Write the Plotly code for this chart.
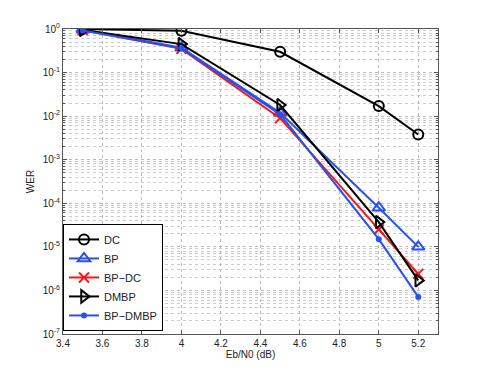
import plotly.graph_objects as go

ebn0 = [3.5, 4.0, 4.5, 5.0, 5.2]

wer_dc = [1.0, 0.91, 0.30, 0.017, 0.0038]
wer_bp = [0.98, 0.37, 0.012, 7.9e-5, 1.0e-5]
wer_bp_dc = [0.95, 0.35, 0.009, 2.5e-5, 2.4e-6]
wer_dmbp = [0.95, 0.45, 0.018, 3.7e-5, 1.7e-6]
wer_bp_dmbp = [0.92, 0.36, 0.011, 1.5e-5, 7.1e-7]

ytick_vals = [1e-7, 1e-6, 1e-5, 1e-4, 1e-3, 1e-2, 1e-1, 1e0]
ytick_text = ['10<sup>-7</sup>', '10<sup>-6</sup>', '10<sup>-5</sup>', '10<sup>-4</sup>',
              '10<sup>-3</sup>', '10<sup>-2</sup>', '10<sup>-1</sup>', '10<sup>0</sup>']

blue = 'rgb(40,80,240)'
red = 'rgb(250,20,20)'

fig = go.Figure()

fig.add_trace(go.Scatter(x=ebn0, y=wer_dc, name='DC', mode='lines+markers',
                         line=dict(color='black', width=2),
                         marker=dict(symbol='circle-open', size=10, color='black', line=dict(width=2))))
fig.add_trace(go.Scatter(x=ebn0, y=wer_bp, name='BP', mode='lines+markers',
                         line=dict(color=blue, width=2),
                         marker=dict(symbol='triangle-up-open', size=11, color=blue, line=dict(width=2))))
fig.add_trace(go.Scatter(x=ebn0, y=wer_bp_dc, name='BP\u2212DC', mode='lines+markers',
                         line=dict(color=red, width=2),
                         marker=dict(symbol='x-thin-open', size=10, color=red, line=dict(width=2, color=red))))
fig.add_trace(go.Scatter(x=ebn0, y=wer_dmbp, name='DMBP', mode='lines+markers',
                         line=dict(color='black', width=2),
                         marker=dict(symbol='triangle-right-open', size=11, color='black', line=dict(width=2))))
fig.add_trace(go.Scatter(x=ebn0, y=wer_bp_dmbp, name='BP\u2212DMBP', mode='lines+markers',
                         line=dict(color=blue, width=2),
                         marker=dict(symbol='circle', size=6, color=blue)))

axis_common = dict(showline=True, linecolor='#555', linewidth=1, mirror='ticks',
                   ticks='inside', tickcolor='#555', ticklen=4, automargin=False,
                   showgrid=True, gridcolor='#bbb', griddash='dot', gridwidth=1,
                   zeroline=False, tickfont=dict(size=10, color='#222'))

fig.update_xaxes(range=[3.4, 5.3], dtick=0.2, tick0=3.4,
                 title=dict(text='Eb/N0 (dB)', font=dict(size=10, color='#222'), standoff=2),
                 **axis_common)
fig.update_yaxes(type='log', range=[-7, 0], tickvals=ytick_vals, ticktext=ytick_text,
                 title=dict(text='WER', font=dict(size=10, color='#222'), standoff=6),
                 minor=dict(ticks='inside', ticklen=2, tickcolor='#555', dtick='D1',
                            showgrid=True, gridcolor='#ccc', griddash='dot'),
                 **axis_common)

# page body adds an 8px offset, so the figure is a little smaller than the window
fig.update_layout(
    width=477, height=369,
    margin=dict(l=55, r=47, t=21, b=43),
    paper_bgcolor='white', plot_bgcolor='white',
    font=dict(family='Liberation Sans, Arial', size=10, color='#222'),
    legend=dict(x=0, y=0.01, xanchor='left', yanchor='bottom',
                bgcolor='white', bordercolor='black', borderwidth=1,
                font=dict(size=11), tracegroupgap=0, itemwidth=30),
)

fig.write_html("out.html")
